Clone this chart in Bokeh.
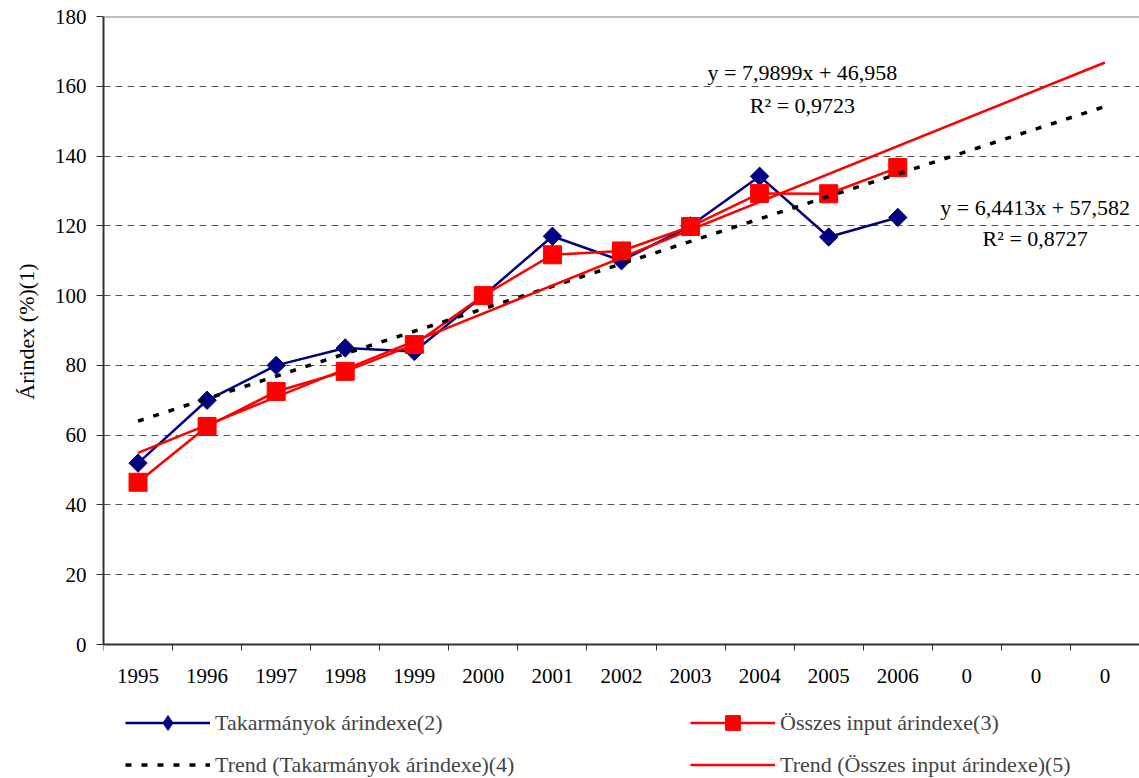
import math
from bokeh.plotting import figure
from bokeh.models import Range1d, FixedTicker, Legend, LegendItem, Label, Span, Title
from bokeh.embed import file_html
from bokeh.resources import INLINE

# ---- data ----
tick_labels = ["1995", "1996", "1997", "1998", "1999", "2000", "2001", "2002",
               "2003", "2004", "2005", "2006", "0", "0", "0"]
years = tick_labels[:12]
takarmany = [52.0, 70.0, 80.0, 85.0, 84.0, 100.0, 117.0, 110.0, 120.0, 134.2, 116.8, 122.4]
osszes = [46.5, 62.5, 72.5, 78.3, 86.0, 100.0, 111.7, 112.8, 119.8, 129.3, 129.2, 136.7]
trend_tak_slope, trend_tak_icpt = 6.4413, 57.582
trend_ossz_slope, trend_ossz_icpt = 7.9899, 46.958
eq_tak = ["y = 6,4413x + 57,582", "R\u00b2 = 0,8727"]
eq_ossz = ["y = 7,9899x + 46,958", "R\u00b2 = 0,9723"]
legend_labels = ["Takarmányok árindexe(2)", "Összes input árindexe(3)",
                 "Trend (Takarmányok árindexe)(4)", "Trend (Összes input árindexe)(5)"]
y_title = "Árindex (%)(1)"
y_max = 180

FONT = "Liberation Serif"
BLUE = "#000080"
RED = "#FF0000"

W, H = 1139, 778
FRAME_TOP, FRAME_LEFT, AXIS_Y = 16, 103, 644     # pixel layout
px_per_unit = (AXIS_Y - FRAME_TOP) / y_max
y_bottom = -(H - AXIS_Y) / px_per_unit

n_cat = len(tick_labels)
p = figure(width=W, height=H, x_range=Range1d(0, n_cat), y_range=Range1d(y_bottom, y_max),
           output_backend="svg", toolbar_location=None,
           min_border_left=FRAME_LEFT, min_border_right=0, min_border_top=FRAME_TOP,
           min_border_bottom=0)
p.background_fill_color = "white"
p.border_fill_color = "white"
p.outline_line_color = None

# x axis (placed at y = 0 inside the frame)
centers = [i + 0.5 for i in range(n_cat)]
p.xaxis.fixed_location = 0
p.xaxis.ticker = FixedTicker(ticks=centers, minor_ticks=list(range(n_cat + 1)))
p.xaxis.major_label_overrides = {c: l for c, l in zip(centers, tick_labels)}
p.xaxis.major_tick_line_color = None
p.xaxis.major_tick_out = 6
p.xaxis.major_tick_in = 0
p.xaxis.minor_tick_out = 6
p.xaxis.minor_tick_in = 0
p.xaxis.minor_tick_line_color = "#333333"
p.xaxis.minor_tick_line_width = 1
p.xaxis.axis_line_color = "#333333"
p.xaxis.axis_line_width = 2
p.xaxis.major_label_text_font = FONT
p.xaxis.major_label_text_font_size = "21px"
p.xaxis.major_label_text_color = "black"
p.xaxis.major_label_standoff = 18

# y axis
p.yaxis.bounds = (0, y_max)
p.yaxis.ticker = FixedTicker(ticks=list(range(0, y_max + 1, 20)))
p.yaxis.major_tick_out = 7
p.yaxis.major_tick_in = 0
p.yaxis.major_tick_line_color = "#333333"
p.yaxis.minor_tick_line_color = None
p.yaxis.axis_line_color = "#333333"
p.yaxis.axis_line_width = 2
p.yaxis.major_label_text_font = FONT
p.yaxis.major_label_text_font_size = "21px"
p.yaxis.major_label_text_color = "black"
p.yaxis.major_label_standoff = 10

# y title as a left-side Title, centered on the 0..180 part of the axis
p.add_layout(Title(text=y_title, align="right", offset=247, vertical_align="middle",
                   text_font=FONT, text_font_size="22px", text_font_style="normal",
                   text_color="black", standoff=23), "left")

# grid
p.xgrid.visible = False
p.ygrid.ticker = FixedTicker(ticks=list(range(20, y_max, 20)))
p.ygrid.grid_line_color = "#555555"
p.ygrid.grid_line_dash = "7 5"
p.ygrid.grid_line_width = 1
p.add_layout(Span(location=y_max, dimension="width", line_color="#808080", line_width=2))

# series
xs = centers[:len(years)]
r1 = p.line(xs, takarmany, line_color=BLUE, line_width=2.5)
r1m = p.scatter(xs, takarmany, marker="square", angle=math.pi / 4, size=13,
                fill_color=BLUE, line_color=BLUE)
r1leg = p.scatter(xs, takarmany, marker="diamond", size=13, fill_color=BLUE,
                  line_color=BLUE, visible=False)
r2 = p.line(xs, osszes, line_color=RED, line_width=2.5)
r2m = p.scatter(xs, osszes, marker="square", size=18, fill_color=RED, line_color=RED)

tx = [centers[0], centers[-1]]
tk = [1, n_cat]
r3 = p.line(tx, [trend_tak_slope * k + trend_tak_icpt for k in tk],
            line_color="black", line_width=3.5, line_dash="6 10")
r4 = p.line(tx, [trend_ossz_slope * k + trend_ossz_icpt for k in tk],
            line_color=RED, line_width=2.5)

# equation labels
def add_label(x, y, text):
    p.add_layout(Label(x=x, y=y, text=text, text_align="center", text_baseline="middle",
                       text_font=FONT, text_font_size="22px", text_color="black"))

add_label(10.12, 163.9, eq_ossz[0])
add_label(10.12, 154.5, eq_ossz[1])
add_label(13.49, 125.2, eq_tak[0])
add_label(13.49, 116.4, eq_tak[1])

# legends (screen offsets from frame's bottom-left)
common = dict(padding=0, margin=0, border_line_color=None, background_fill_alpha=0,
              label_text_font=FONT, label_text_font_size="22px", label_standoff=5,
              glyph_width=85, label_height=21, glyph_height=37, spacing=5)
leg_left = Legend(items=[LegendItem(label=legend_labels[0], renderers=[r1, r1leg]),
                         LegendItem(label=legend_labels[2], renderers=[r3])],
                  location=(22, -5), **common)
leg_right = Legend(items=[LegendItem(label=legend_labels[1], renderers=[r2, r2m]),
                          LegendItem(label=legend_labels[3], renderers=[r4])],
                   location=(587, -5), **common)
p.add_layout(leg_left)
p.add_layout(leg_right)

open("out.html", "w").write(file_html(p, INLINE))
